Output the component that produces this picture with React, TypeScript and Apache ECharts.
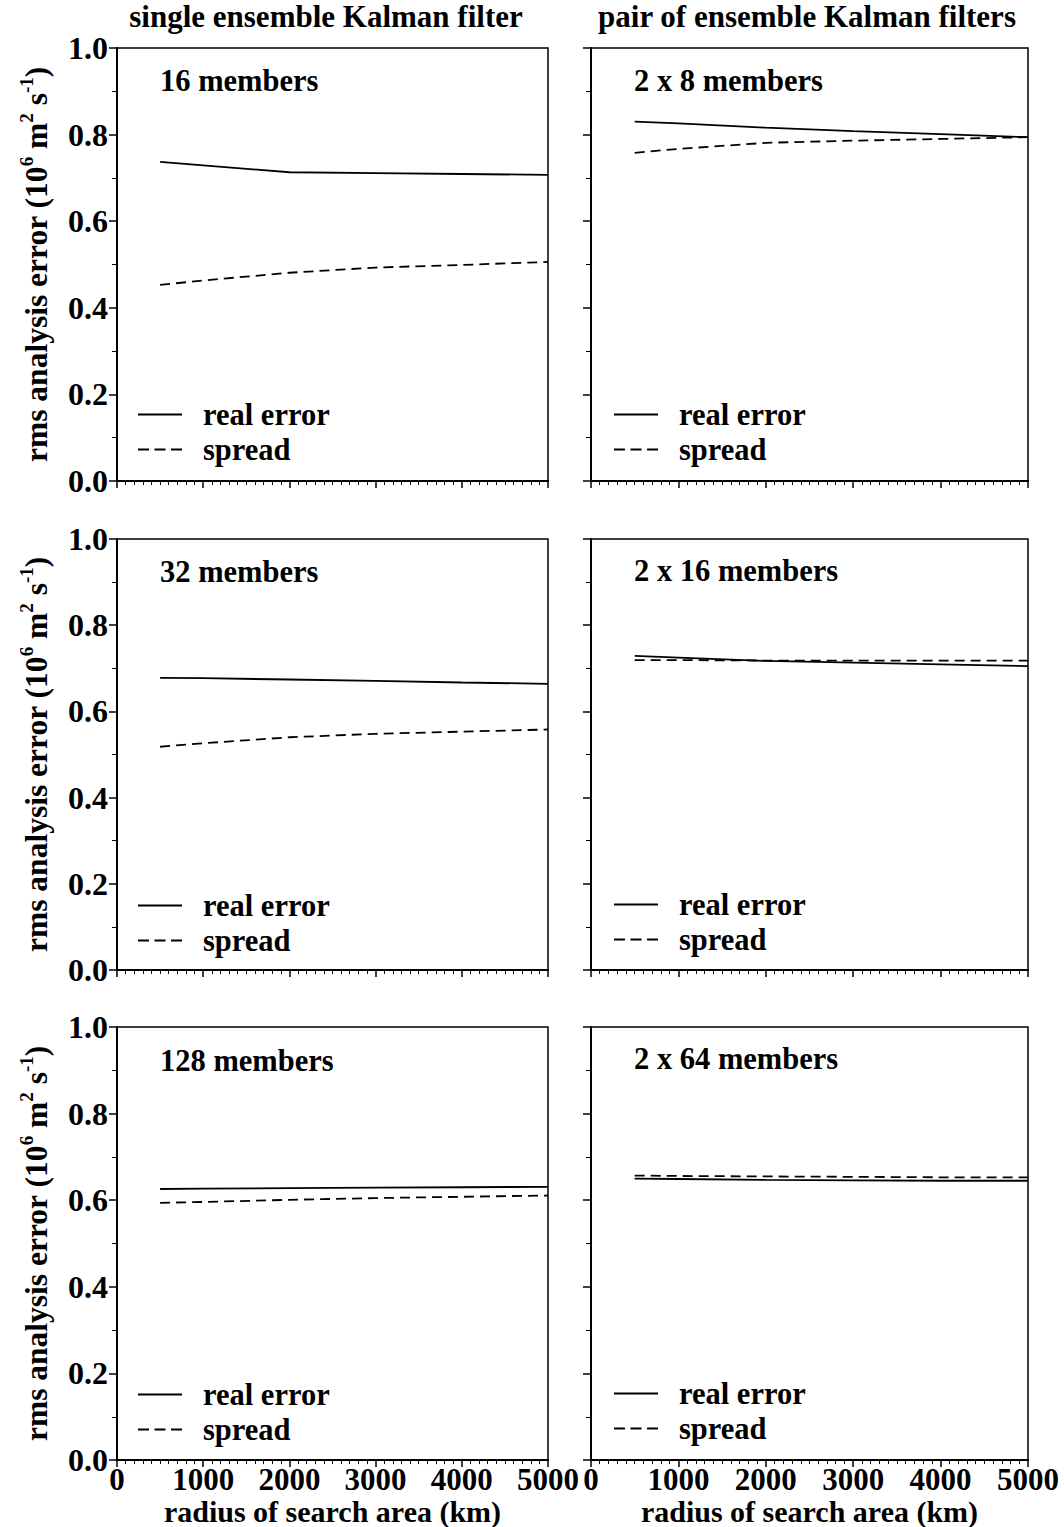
import React, { useEffect, useRef } from "react";
import * as echarts from "echarts";

// ---- data ----
const radiusKm = [500, 1000, 2000, 3000, 4000, 5000];

const single16Real = [0.737, 0.729, 0.713, 0.711, 0.709, 0.707];
const single16Spread = [0.453, 0.463, 0.481, 0.493, 0.499, 0.506];
const pair8Real = [0.830, 0.826, 0.816, 0.808, 0.801, 0.794];
const pair8Spread = [0.758, 0.767, 0.781, 0.786, 0.790, 0.794];

const single32Real = [0.678, 0.677, 0.674, 0.671, 0.667, 0.664];
const single32Spread = [0.518, 0.526, 0.540, 0.548, 0.553, 0.558];
const pair16Real = [0.729, 0.725, 0.717, 0.713, 0.709, 0.705];
const pair16Spread = [0.719, 0.719, 0.718, 0.718, 0.718, 0.718];

const single128Real = [0.626, 0.627, 0.628, 0.629, 0.630, 0.631];
const single128Spread = [0.594, 0.596, 0.601, 0.605, 0.608, 0.611];
const pair64Real = [0.650, 0.649, 0.647, 0.646, 0.645, 0.645];
const pair64Spread = [0.657, 0.656, 0.655, 0.654, 0.653, 0.653];

const panelLabels = [
  "16 members",
  "2 x 8 members",
  "32 members",
  "2 x 16 members",
  "128 members",
  "2 x 64 members",
];
const columnTitles = ["single ensemble Kalman filter", "pair of ensemble Kalman filters"];
const seriesNames = ["real error", "spread"];
const xTicks = { min: 0, max: 5000, interval: 1000 };
const yTicks = { min: 0, max: 1, interval: 0.2 };
const xAxisTitle = "radius of search area (km)";

const panelData = [
  [single16Real, single16Spread],
  [pair8Real, pair8Spread],
  [single32Real, single32Spread],
  [pair16Real, pair16Spread],
  [single128Real, single128Spread],
  [pair64Real, pair64Spread],
];

const FONT = '"Liberation Serif", "Times New Roman", serif';

const SOLID_ICON = "path://M0 0H44V2H0Z";
const DASH_ICON = "path://M0 0H11V2H0Z M16.5 0H27.5V2H16.5Z M33 0H44V2H33Z";

export default function App() {
  const ref = useRef<HTMLDivElement>(null);

  useEffect(() => {
    if (!ref.current) return;
    const chart = echarts.init(ref.current, null, { renderer: "svg" });

    const grids = [
      { left: 117, top: 48, width: 431, height: 433 },
      { left: 591, top: 48, width: 437, height: 433 },
      { left: 117, top: 539, width: 431, height: 431 },
      { left: 591, top: 539, width: 437, height: 431 },
      { left: 117, top: 1027, width: 431, height: 434 },
      { left: 591, top: 1027, width: 437, height: 434 },
    ];

    const textBase = { fontFamily: FONT, fontWeight: "bold" as const, color: "#000" };

    const xAxes = grids.map((_, i) => {
      const bottomRow = i >= 4;
      return {
        type: "value",
        gridIndex: i,
        min: xTicks.min,
        max: xTicks.max,
        interval: xTicks.interval,
        axisLine: { show: true, onZero: false, lineStyle: { color: "#000", width: 2 } },
        axisTick: { show: true, inside: false, length: 7, lineStyle: { color: "#000", width: 1.5 } },
        minorTick: { show: true, splitNumber: 10, length: 4, lineStyle: { color: "#000", width: 1 } },
        splitLine: { show: false },
        axisLabel: {
          show: bottomRow,
          margin: 4,
          ...textBase,
          fontSize: 31,
          showMinLabel: true,
          showMaxLabel: true,
          formatter: (v: number) => String(v),
        },
        name: bottomRow ? xAxisTitle : "",
        nameLocation: "middle",
        nameGap: 28,
        nameTextStyle: { ...textBase, fontSize: 30 },
      };
    });

    const yAxes = grids.map((_, i) => {
      const leftCol = i % 2 === 0;
      return {
        type: "value",
        gridIndex: i,
        min: yTicks.min,
        max: yTicks.max,
        interval: yTicks.interval,
        axisLine: { show: true, lineStyle: { color: "#000", width: 2 } },
        axisTick: { show: true, inside: false, length: 8, lineStyle: { color: "#000", width: 1.5 } },
        minorTick: { show: true, splitNumber: 2, length: 5, lineStyle: { color: "#000", width: 1 } },
        splitLine: { show: false },
        axisLabel: {
          show: leftCol,
          margin: 9,
          ...textBase,
          fontSize: 32,
          formatter: (v: number) => v.toFixed(1),
        },
        name: leftCol ? "{a|rms analysis error (10}{s|6}{a| m}{s|2}{a| s}{s|-1}{a|)}" : "",
        nameLocation: "middle",
        nameRotate: 90,
        nameGap: 62,
        nameTextStyle: {
          rich: {
            a: { ...textBase, fontSize: 31.5, lineHeight: 38 },
            s: { ...textBase, fontSize: 19, lineHeight: 19, verticalAlign: "top" },
          },
        },
      };
    });

    const series: any[] = [];
    panelData.forEach((pair, i) => {
      pair.forEach((vals, k) => {
        series.push({
          type: "line",
          name: seriesNames[k],
          xAxisIndex: i,
          yAxisIndex: i,
          data: radiusKm.map((x, j) => [x, vals[j]]),
          showSymbol: false,
          symbol: "none",
          lineStyle: {
            color: "#000",
            width: 1.8,
            type: k === 0 ? "solid" : [10, 6],
          },
          itemStyle: { color: "#000" },
        });
      });
    });

    const legendTops = [399, 399, 890, 889, 1379, 1378];
    const legends = grids.map((g, i) => ({
      show: true,
      orient: "vertical",
      left: i % 2 === 0 ? 138 : 614,
      top: legendTops[i],
      itemWidth: 44,
      itemHeight: 14,
      itemGap: 4,
      selectedMode: false,
      padding: 0,
      data: [
        { name: seriesNames[0], icon: SOLID_ICON },
        { name: seriesNames[1], icon: DASH_ICON },
      ],
      itemStyle: { color: "#000" },
      textStyle: { ...textBase, fontSize: 30.5, lineHeight: 31, padding: [0, 0, 0, 16] },
    }));

    const labelTops = [65, 65, 556, 555, 1045, 1043];
    const titles: any[] = grids.map((g, i) => ({
      text: panelLabels[i],
      left: g.left + 43,
      top: labelTops[i],
      padding: 0,
      textStyle: { ...textBase, fontSize: 30.5 },
    }));
    titles.push({
      text: columnTitles[0],
      left: 326,
      top: 1,
      textAlign: "center",
      padding: 0,
      textStyle: { ...textBase, fontSize: 31 },
    });
    titles.push({
      text: columnTitles[1],
      left: 807,
      top: 1,
      textAlign: "center",
      padding: 0,
      textStyle: { ...textBase, fontSize: 31 },
    });

    chart.setOption({
      animation: false,
      backgroundColor: "#fff",
      title: titles,
      legend: legends,
      grid: grids.map((g) => ({
        ...g,
        show: true,
        borderColor: "#000",
        borderWidth: 1.5,
        backgroundColor: "transparent",
        containLabel: false,
      })),
      xAxis: xAxes,
      yAxis: yAxes,
      series,
    });

    return () => chart.dispose();
  }, []);

  return (
    <div
      ref={ref}
      style={{ position: "absolute", left: 0, top: 0, width: 1064, height: 1527 }}
    />
  );
}
